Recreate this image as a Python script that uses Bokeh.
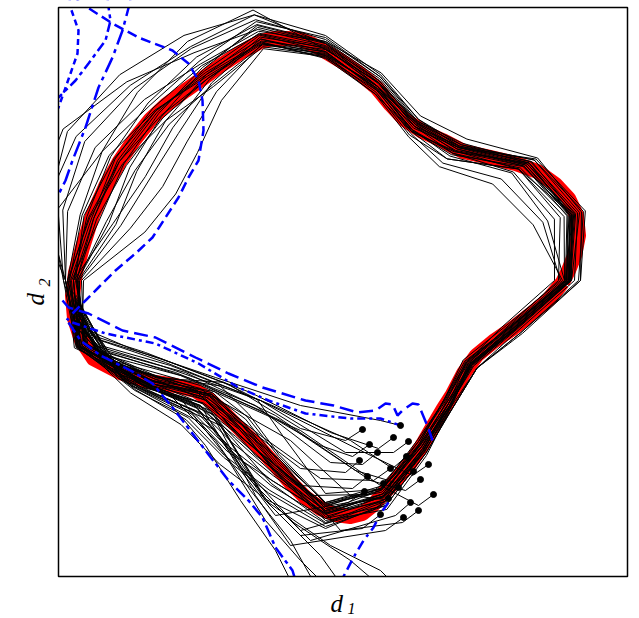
import numpy as np
from bokeh.plotting import figure
from bokeh.models import Range1d, Label
from bokeh.embed import file_html
from bokeh.resources import INLINE

# ---------------- data (arbitrary d1/d2 units) ----------------
XLIM = (0, 569)          # plotting window of the original chart
YLIM = (0, 569)
CENTER = (267, 296)
ANGLES_DEG = [0, 15, 30, 45, 60, 75, 90, 105, 120, 135, 150, 165,
              180, 195, 210, 225, 240, 255, 270, 285, 300, 315, 330, 345]
BASE_R = [243, 255, 233, 186, 178, 201, 229, 250, 238, 236, 238, 242,
          252, 252, 205, 169, 172, 192, 228, 221, 192, 174, 167, 192]

# radial deviations of the black closed trajectories from BASE_R
LOOP_01 = [0, 2, 0, -2, 0, 3, 5, 6, 4, 2, 0, -2, 0, 2, 0, -3, -2, 0, 2, 0, -2, 0, 2, 1]
LOOP_02 = [-3, -5, -4, 0, 2, 0, -3, -5, -4, -6, -8, -5, -3, -2, 3, 5, 4, 2, -3, -4, -3, -2, 0, -2]
LOOP_03 = [10, 12, 8, 6, 8, 10, 12, 20, 30, 35, 40, 30, 8, 2, 6, 10, 8, 5, 3, 2, 3, 4, 8, 10]
LOOP_04 = [2, 0, -5, -8, -5, 0, 8, 25, 45, 55, 60, 45, 10, 0, 5, 12, 15, 10, 5, 0, 0, 2, 3, 2]
LOOP_05 = [-2, -3, -2, 2, 5, 8, 10, 15, 20, 15, 10, 5, 0, 3, -5, -12, -15, -10, -5, -2, 0, -3, -5, -4]
LOOP_06 = [-8, -30, -30, -20, -8, -3, 0, -5, -20, -40, -50, -40, -8, -2, 2, 0, -5, -8, -6, -5, -4, -6, -8, -8]
LOOP_07 = [-6, -40, -40, -25, -12, -8, -5, -10, -30, -55, -65, -55, -10, 0, 5, 8, 5, 0, -2, -6, -8, -5, -3, -5]
LOOP_08 = [12, 10, 12, 14, 12, 14, 10, 8, 12, 20, 28, 25, 8, 5, 15, 25, 30, 25, 15, 8, 5, 6, 8, 12]
LOOP_09 = [0, -2, 2, 4, 0, -4, -6, -4, -2, 5, 12, 10, 4, 0, 20, 35, 40, 35, 20, 10, 4, 2, 0, 0]
LOOP_10 = [2, 4, 2, -4, -6, -4, 0, 4, 0, -10, -20, -25, -5, -3, -10, -25, -35, -30, -15, -5, 0, 3, 2, 3]
LOOP_11 = [-14, -18, -16, -6, 0, 4, 8, 12, 8, 0, -5, -8, 2, 5, 8, 4, 0, 4, 8, 6, 4, 0, -4, -10]
LOOP_12 = [6, 6, 4, 8, 6, 4, 2, 30, 38, 30, 20, 12, 6, -3, -5, -5, 0, 5, 10, 12, 8, 6, 8, 6]
LOOP_13 = [-4, -8, -10, -14, -10, -6, -4, 0, -10, -28, -35, -30, -6, 3, 10, 18, 22, 20, 10, 2, -4, -6, -6, -4]
LOOP_14 = [3, 0, -2, 0, 4, 6, 6, 10, 25, 45, 65, 60, 8, 4, 0, -8, -12, -6, 0, 4, 6, 4, 0, 2]
LOOP_15 = [-4, -25, -18, -10, -4, -2, -2, -6, -12, -15, -18, -15, -4, -4, -12, -20, -18, -12, -6, -8, -6, -4, -2, -3]
LOOP_16 = [1, 3, 5, 2, -2, 0, 3, 5, 10, 8, 5, 0, 3, 6, 12, 20, 25, 15, 5, 0, -3, -2, 2, 3]
LOOP_17 = [-2, -4, -8, -6, -4, -2, -1, 0, 2, 4, 2, -2, -3, -6, -2, 5, 10, 8, 2, -4, -6, -6, -4, -3]
LOOP_18 = [3, 8, 8, 4, 6, 10, 14, 18, 15, 12, 20, 35, 10, 6, 10, 15, 20, 15, 6, 3, 2, 2, 4, 4]
LOOP_19 = [1, -2, -4, -3, 2, 4, 2, -2, -4, -3, 0, 3, 5, 4, -4, -8, -8, -4, 0, 3, 4, 2, -1, 0]
LOOP_20 = [-10, -12, -10, -3, -6, -8, -7, -3, 0, 4, 6, 8, -2, -5, -8, -10, -6, -2, 4, 8, 6, 3, -2, -6]
LOOP_21 = [12, 14, 10, 2, 3, 6, 9, 14, 6, -4, -12, -18, -4, 2, 14, 28, 32, 28, 18, 12, 8, 6, 8, 10]
LOOP_22 = [-1, 0, -10, -14, -6, 0, 4, 2, -6, -20, -30, -22, 0, 4, -3, -8, -5, 0, -4, -6, -2, 0, 1, 0]
LOOP_23 = [2, 1, 0, 3, 8, 12, 16, 25, 32, 40, 50, 48, 8, 2, 4, 8, 12, 18, 14, 6, 2, 0, 1, 2]
LOOP_24 = [-2, -1, 2, 6, 4, 0, -4, -8, -14, -10, -4, 2, 6, 8, 0, -6, -2, 6, 12, 16, 10, 4, 0, -1]

# red reference cycle
RED_X = [504, 510, 516, 520, 518, 510, 497, 479, 457, 432, 405, 384, 364, 346, 332, 318, 300, 282,
         267, 254, 242, 229, 215, 202, 182, 162, 147, 127, 108, 92, 76, 61, 47, 34, 24, 17, 14, 16,
         23, 35, 62, 90, 117, 137, 152, 167, 182, 199, 217, 232, 247, 262, 277, 292, 304, 314, 325,
         337, 350, 363, 375, 385, 394, 405, 418, 435, 454, 472, 490, 504]
RED_Y = [294, 306, 321, 341, 361, 378, 392, 405, 413, 419, 425, 436, 445, 457, 472, 489, 504, 516,
         525, 532, 537, 538, 538, 535, 524, 511, 500, 486, 472, 457, 437, 415, 390, 361, 329, 304, 281, 258,
         236, 218, 204, 195, 191, 186, 176, 162, 147, 131, 111, 94, 79, 68, 62, 60, 63, 71, 83,
         96, 111, 130, 151, 168, 182, 203, 221, 235, 248, 262, 277, 294]

# open trajectories that stop (end marked by a dot)
OPEN_01 = [(18, 281), (34, 241), (87, 224), (172, 191), (242, 148), (287, 136), (304, 147)]
OPEN_02 = [(16, 276), (37, 238), (102, 218), (192, 184), (272, 144), (320, 128), (335, 139)]
OPEN_03 = [(17, 271), (42, 231), (112, 211), (202, 176), (287, 124), (335, 124), (350, 135)]
OPEN_04 = [(15, 284), (30, 246), (77, 226), (157, 199), (242, 171), (322, 156), (342, 151)]
OPEN_05 = [(19, 266), (47, 221), (122, 201), (202, 166), (262, 131), (294, 120), (311, 132)]
OPEN_06 = [(17, 276), (40, 226), (117, 204), (197, 171), (272, 114), (304, 112), (319, 124)]
OPEN_07 = [(16, 261), (52, 214), (132, 191), (192, 146), (242, 108), (287, 104), (301, 116)]
OPEN_08 = [(18, 278), (42, 236), (107, 214), (207, 174), (292, 136), (334, 108), (348, 120)]
OPEN_09 = [(15, 271), (37, 231), (102, 211), (202, 176), (302, 126), (354, 101), (370, 112)]
OPEN_10 = [(17, 256), (57, 211), (142, 188), (202, 141), (262, 98), (315, 96), (332, 108)]
OPEN_11 = [(20, 276), (47, 226), (127, 204), (217, 161), (297, 106), (340, 93), (355, 105)]
OPEN_12 = [(16, 266), (54, 214), (137, 186), (187, 136), (242, 91), (294, 88), (309, 100)]
OPEN_13 = [(18, 271), (50, 224), (132, 198), (222, 156), (312, 96), (347, 86), (362, 97)]
OPEN_14 = [(15, 258), (60, 208), (147, 178), (197, 121), (252, 81), (310, 82), (325, 93)]
OPEN_15 = [(17, 264), (62, 204), (142, 171), (182, 106), (217, 61), (290, 74), (306, 85)]
OPEN_16 = [(19, 276), (52, 216), (152, 181), (232, 136), (292, 81), (326, 77), (340, 89)]
OPEN_17 = [(16, 251), (67, 198), (152, 166), (197, 96), (242, 46), (314, 66), (330, 78)]
OPEN_18 = [(18, 268), (54, 216), (142, 191), (242, 146), (322, 91), (360, 71), (375, 82)]
OPEN_19 = [(16, 256), (62, 202), (157, 161), (202, 86), (252, 36), (337, 61), (352, 74)]
OPEN_20 = [(17, 276), (57, 214), (147, 176), (222, 116), (282, 46), (344, 54), (360, 66)]
OPEN_21 = [(15, 261), (64, 198), (157, 156), (197, 81), (232, 31), (327, 46), (345, 59)]
OPEN_22 = [(18, 254), (67, 194), (162, 151), (207, 76), (242, 41), (304, 48), (322, 62)]

# trajectories that leave the window at the bottom
EXIT_01 = [(16, 271), (42, 216), (112, 181), (157, 136), (192, 86), (232, 36), (260, -14)]
EXIT_02 = [(17, 261), (52, 206), (132, 176), (177, 121), (212, 71), (262, 21), (287, -14)]
EXIT_03 = [(15, 266), (47, 211), (122, 178), (167, 121), (207, 56), (242, 16), (272, -14)]
EXIT_04 = [(18, 256), (60, 198), (142, 164), (192, 96), (232, 56), (292, 16), (327, -14)]
EXIT_05 = [(16, 251), (72, 191), (157, 146), (207, 76), (272, 31), (322, 6), (342, -14)]
EXIT_06 = [(17, 276), (40, 221), (102, 184), (147, 131), (182, 76), (217, 26), (237, -14)]

# blue comparison curves
BLUE_A = [(11, 576), (12, 569), (20, 546), (19, 523), (12, 503), (0, 469), (-8, 456)]
BLUE_B = [(49, 576), (52, 556), (47, 536), (30, 513), (17, 496), (-8, 471)]
BLUE_C = [(72, 576), (64, 546), (54, 519), (40, 489), (27, 449), (14, 416), (7, 396), (-3, 376)]
BLUE_D = [(18, 576), (29, 569), (54, 553), (80, 539), (114, 526), (130, 513), (140, 496), (144, 476),
          (145, 446), (140, 416), (130, 399), (120, 379), (107, 359), (94, 339), (77, 323), (57, 306),
          (40, 289), (27, 276), (14, 263)]
BLUE_E = [(10, 254), (22, 236), (42, 221), (72, 206), (94, 193), (114, 169), (147, 126), (170, 96),
          (190, 76), (204, 59), (217, 29), (234, 6), (240, -14)]
BLUE_F = [(4, 276), (10, 269), (30, 263), (64, 246), (97, 239), (137, 219), (170, 203), (204, 189),
          (247, 176), (275, 171), (299, 164), (317, 166), (327, 173), (334, 172), (339, 161),
          (344, 166), (354, 173), (360, 172), (370, 148), (374, 136)]
BLUE_G = [(8, 258), (14, 254), (47, 243), (97, 233), (140, 213), (180, 189), (210, 176), (247, 163),
          (292, 158), (322, 158), (342, 151)]
BLUE_H = [(330, 74), (322, 63), (315, 49), (305, 36), (295, 19), (285, 0), (279, -14)]

# ---------------- figure ----------------
# The frame covers the whole canvas so that the axis titles (drawn as Labels) are not clipped;
# the original plotting window XLIM x YLIM is drawn as a box, with white margins around it.
p = figure(frame_width=639, frame_height=618,
           x_range=Range1d(-58, 581), y_range=Range1d(-42, 576),
           x_axis_type=None, y_axis_type=None,
           toolbar_location=None, output_backend="svg",
           min_border_left=0, min_border_right=0, min_border_top=0, min_border_bottom=0)
p.grid.visible = False
p.outline_line_color = None
p.background_fill_color = "white"
p.border_fill_color = "white"

# red reference cycle
p.line(RED_X, RED_Y, line_color="red", line_width=15, line_join="round")

# black closed loops
theta = np.deg2rad(np.array(ANGLES_DEG + [ANGLES_DEG[0]], dtype=float))
base = np.array(BASE_R + [BASE_R[0]], dtype=float)
loops = [LOOP_01, LOOP_02, LOOP_03, LOOP_04, LOOP_05, LOOP_06, LOOP_07, LOOP_08,
         LOOP_09, LOOP_10, LOOP_11, LOOP_12, LOOP_13, LOOP_14, LOOP_15, LOOP_16,
         LOOP_17, LOOP_18, LOOP_19, LOOP_20, LOOP_21, LOOP_22, LOOP_23, LOOP_24]
lx, ly = [], []
for dev in loops:
    r = base + np.array(dev + [dev[0]], dtype=float)
    lx.append(list(CENTER[0] + r * np.cos(theta)))
    ly.append(list(CENTER[1] + r * np.sin(theta)))
p.multi_line(lx, ly, line_color="black", line_width=1)

opens = [OPEN_01, OPEN_02, OPEN_03, OPEN_04, OPEN_05, OPEN_06, OPEN_07, OPEN_08, OPEN_09,
         OPEN_10, OPEN_11, OPEN_12, OPEN_13, OPEN_14, OPEN_15, OPEN_16, OPEN_17, OPEN_18,
         OPEN_19, OPEN_20, OPEN_21, OPEN_22]
exits = [EXIT_01, EXIT_02, EXIT_03, EXIT_04, EXIT_05, EXIT_06]
p.multi_line([[q[0] for q in c] for c in opens + exits],
             [[q[1] for q in c] for c in opens + exits],
             line_color="black", line_width=1)

# blue curves
blue_specs = [(BLUE_A, "6 4"), (BLUE_B, "10 4 4 4"), (BLUE_C, "16 5 4 5"), (BLUE_D, "10 5"),
              (BLUE_E, "12 4 4 4"), (BLUE_F, "14 6"), (BLUE_G, "3 4 8 4"), (BLUE_H, "10 5 3 5")]
for pts, dash in blue_specs:
    p.line([q[0] for q in pts], [q[1] for q in pts], line_color="blue", line_width=2.5,
           line_dash=dash)

# end points of the stopped trajectories
p.scatter([c[-1][0] for c in opens], [c[-1][1] for c in opens], size=6,
          fill_color="black", line_color="black")

# white margins outside the plotting window, then the window box
x0, x1 = p.x_range.start, p.x_range.end
y0, y1 = p.y_range.start, p.y_range.end
p.quad(left=[x0, XLIM[1], XLIM[0], XLIM[0]], right=[XLIM[0], x1, XLIM[1], XLIM[1]],
       bottom=[y0, y0, YLIM[1], y0], top=[y1, y1, y1, YLIM[0]],
       fill_color="white", line_color=None)
p.quad(left=[XLIM[0]], right=[XLIM[1]], bottom=[YLIM[0]], top=[YLIM[1]],
       fill_color=None, line_color="black", line_width=1.5)

# axis titles d1 (below) and d2 (left)
lab = dict(text_font="Liberation Serif", text_font_style="italic", text_color="black",
           text_baseline="alphabetic", text_align="left")
p.add_layout(Label(x=272, y=-27, text="d", text_font_size="25px", **lab))
p.add_layout(Label(x=289, y=-32, text="1", text_font_size="16px", **lab))
p.add_layout(Label(x=-23, y=271, text="d", angle=np.pi / 2, text_font_size="25px", **lab))
p.add_layout(Label(x=-14, y=290, text="2", angle=np.pi / 2, text_font_size="16px", **lab))

open("out.html", "w").write(file_html(p, INLINE))
